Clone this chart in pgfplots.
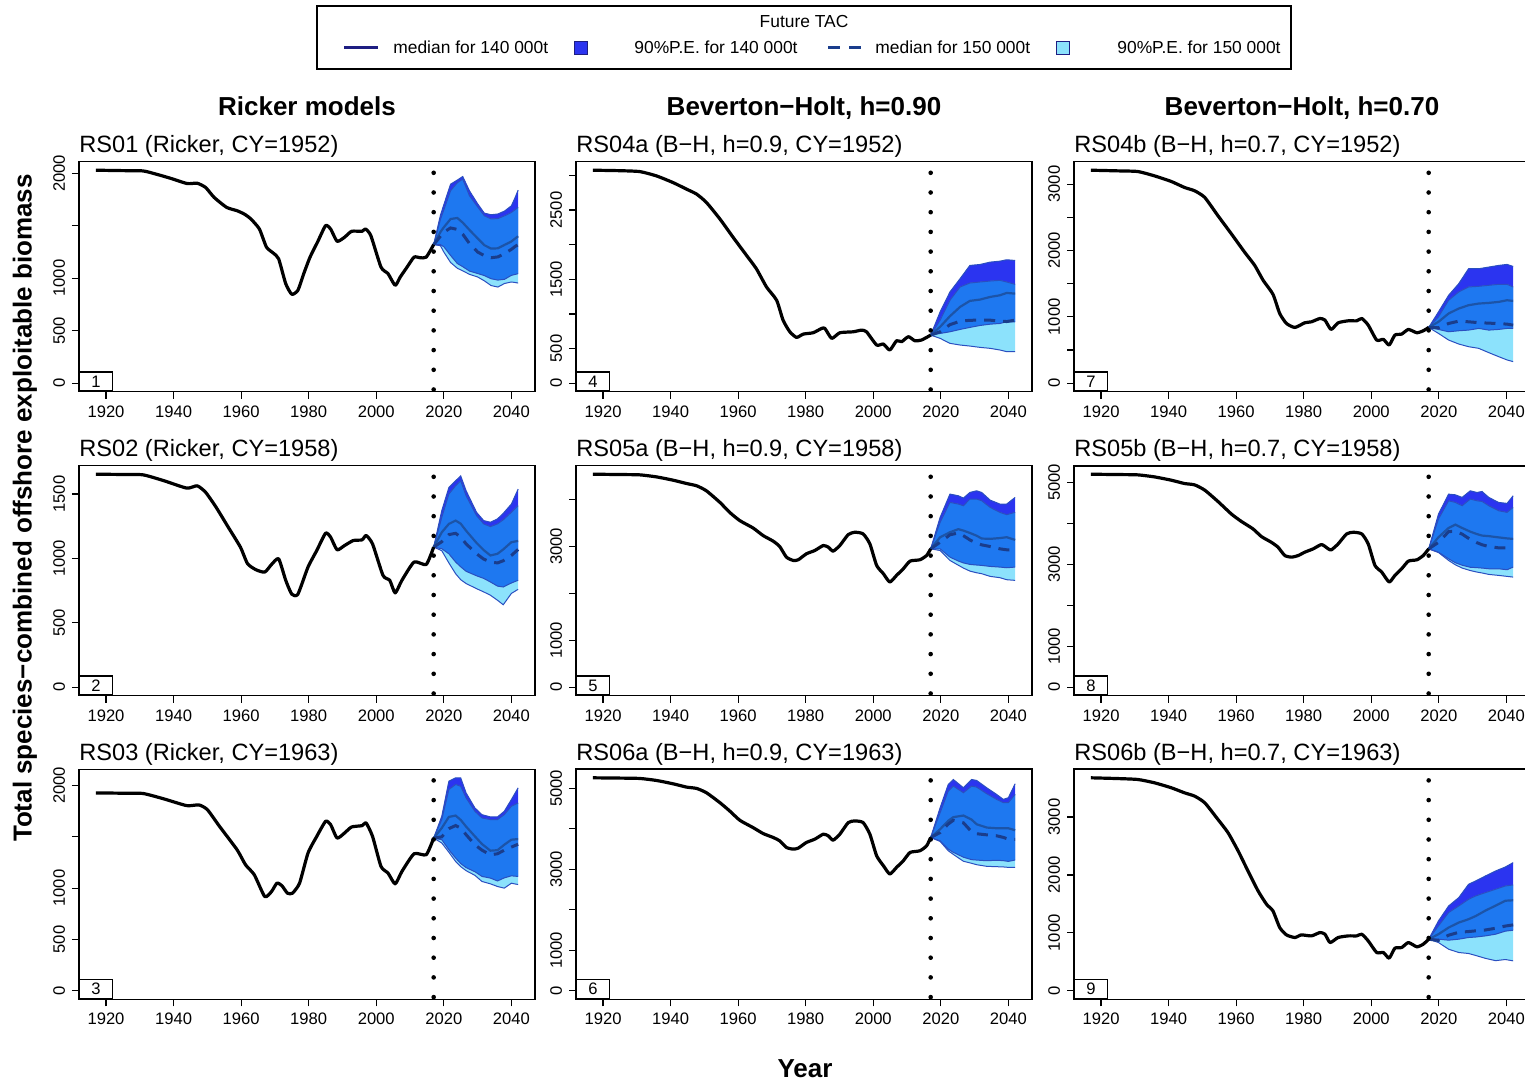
\documentclass[border=0pt]{standalone}
\usepackage{fontspec}
\setmainfont{Liberation Sans}
\usepackage{pgfplots}
\usepackage{pgfplotstable}
\pgfplotsset{compat=1.18}
\usepgfplotslibrary{fillbetween}

\definecolor{cDk}{RGB}{43,52,240}
\definecolor{cMd}{RGB}{30,120,240}
\definecolor{cLt}{RGB}{140,226,252}
\definecolor{cEdge}{RGB}{42,79,192}
\definecolor{cMedA}{RGB}{28,84,168}
\definecolor{cMedB}{RGB}{26,61,140}
\definecolor{cNavy}{RGB}{30,30,130}

\newcommand\ticksize{\fontsize{8.3}{10}\selectfont}
\newcommand\titlesize{\fontsize{11.8}{14}\selectfont}
\newcommand\bigbold{\fontsize{13}{15}\selectfont\bfseries}
\newcommand\legsize{\fontsize{8.7}{10}\selectfont}

% historical series, one table per panel
\pgfplotstableread{
yr b
1917 2029
1925 2025
1931 2022
1935 1990
1939 1953
1944 1902
1947 1905
1949.5 1864
1952 1770
1955.7 1675
1958.8 1643
1961 1610
1962.9 1564
1965.4 1469
1967.5 1296
1969.5 1240
1971.1 1185
1973.2 948
1975 847
1976.8 885
1978.5 1040
1980.4 1201
1982.7 1350
1985 1501
1986.5 1469
1988.4 1352
1990.6 1390
1992.7 1447
1995.8 1447
1996.8 1469
1998.4 1406
2001.4 1106
2003.5 1043
2005.6 932
2007.1 1011
2009 1100
2011.2 1201
2013 1195
2014.8 1201
2017 1320
}\hA
\pgfplotstableread{
yr b
1917 1654
1925 1652
1931 1649
1937.2 1603
1943.9 1546
1947 1564
1949.5 1513
1952.6 1397
1956.2 1242
1959.8 1087
1961.9 959
1964.4 912
1967 894
1969 953
1971.1 997
1973.2 830
1975 722
1976.8 722
1979.8 933
1982.4 1062
1985 1196
1986.5 1165
1988.4 1067
1990.6 1100
1993.2 1139
1995.8 1144
1997 1178
1998.9 1113
2002 868
2004 830
2005.6 732
2007.6 830
2011.2 972
2014.8 953
2017 1088
}\hB
\pgfplotstableread{
yr b
1917 1928
1925 1925
1931 1922
1937.2 1869
1943.9 1804
1947.5 1811
1950 1765
1953.6 1602
1958.8 1374
1961.3 1228
1963.9 1130
1967 918
1969 967
1970.6 1049
1972.1 1023
1973.7 951
1975.2 951
1977.3 1049
1979.8 1342
1982.4 1505
1985 1651
1986.5 1619
1988.4 1488
1990.6 1537
1992.7 1596
1995.8 1609
1997 1635
1998.9 1505
2001.4 1212
2003.5 1146
2005.6 1042
2007.6 1163
2011.2 1335
2014.8 1326
2017 1488
}\hC
\pgfplotstableread{
yr b
1917 3075
1925 3068
1930.9 3055
1935.8 2993
1940.7 2897
1944.7 2802
1947.7 2730
1950.6 2610
1954.6 2371
1958.5 2107
1962.5 1844
1965.4 1652
1968.4 1389
1971.4 1197
1973.3 910
1975.3 742
1977.3 661
1979.3 709
1982.2 728
1984.7 790
1985.7 790
1987.7 647
1990.1 728
1994.1 742
1996.5 766
1998 742
2001 551
2003 565
2004.9 479
2006.9 613
2008.4 599
2010.4 671
2012.3 613
2014.3 623
2017 694
}\hD
\pgfplotstableread{
yr b
1917 4542
1925 4535
1930.9 4528
1935.8 4485
1940.7 4415
1944.7 4344
1947.7 4295
1950.6 4188
1954.6 3941
1957.5 3728
1960.5 3552
1964.4 3396
1967.4 3233
1970.4 3113
1972.3 3000
1974.3 2773
1976.3 2703
1977.8 2717
1980.2 2844
1982.7 2915
1985.2 3021
1986.7 2986
1988.1 2901
1990.1 3021
1992.6 3255
1994.6 3304
1997 3269
1999 3056
2001 2597
2003 2420
2004.9 2243
2006.9 2384
2008.9 2526
2010.9 2689
2013.8 2717
2015.8 2809
2017 2950
}\hE
\pgfplotstableread{
yr b
1917 5262
1925 5255
1930.9 5246
1935.8 5197
1940.7 5115
1944.7 5033
1947.7 5000
1950.6 4894
1954.6 4648
1957.5 4443
1960.5 4213
1964.4 4033
1967.4 3885
1970.4 3787
1972.3 3705
1974.3 3541
1976.3 3500
1977.8 3525
1980.2 3664
1982.7 3746
1985.2 3869
1986.7 3828
1988.1 3721
1990.1 3869
1992.6 4156
1994.6 4197
1997 4156
1999 3869
2001 3336
2003 3090
2004.9 2885
2006.9 3049
2008.9 3213
2010.9 3418
2013.8 3459
2015.8 3582
2017 3787
}\hF
\pgfplotstableread{
yr b
1917 3210
1925 3200
1930.9 3190
1935.8 3125
1940.8 3040
1944.7 2950
1947.7 2900
1950.7 2800
1954.6 2525
1958.6 2250
1962.5 1975
1965.5 1775
1968 1550
1970.9 1340
1972.9 1050
1974.9 900
1977.4 840
1980.3 910
1982.3 925
1984.8 975
1986.3 950
1988.1 810
1990.2 910
1993.2 940
1995.7 940
1997.2 975
1999.1 875
2001.6 650
2003.6 660
2005.3 575
2007 725
2009 740
2011 810
2013.5 760
2015.4 790
2017 840
}\hG
\pgfplotstableread{
yr b
1917 5203
1925 5195
1930.9 5187
1935.8 5138
1940.8 5057
1944.7 4976
1947.7 4943
1950.7 4814
1954.6 4538
1958.6 4230
1961.5 4052
1965 3866
1967.5 3679
1970.4 3541
1972.4 3420
1974.4 3217
1976.4 3177
1978.4 3217
1980.3 3298
1982.8 3379
1985.3 3485
1987.3 3379
1988.2 3355
1990.2 3501
1992.7 3744
1994.7 3785
1997.2 3744
1999.1 3501
2001.1 2974
2003.1 2812
2005.3 2569
2007 2731
2009 2893
2011 3080
2013.5 3112
2015.4 3217
2017 3379
}\hH
\pgfplotstableread{
yr b
1917 3678
1925 3665
1930.9 3649
1935.8 3592
1940.8 3506
1944.7 3419
1947.7 3362
1950.7 3247
1954.6 2960
1957.6 2730
1960.6 2414
1963.5 2069
1966.5 1724
1969 1494
1970.9 1379
1972.9 1092
1974.9 965
1977.4 920
1979.3 965
1982.3 948
1984.8 1006
1986.3 977
1987.8 833
1990.2 920
1993.2 948
1995.7 948
1997.2 977
1999.1 862
2001.6 661
2003.6 661
2005.3 563
2007 736
2009 747
2011 833
2013.5 759
2015.4 805
2017 891
}\hI

% projections: 90% P.E. bounds and medians for 140 000t and 150 000t
\pgfplotstableread{
yr u140 u150 m140 m150 l140 l150
2017 1320 1320 1320 1320 1320 1320
2019 1600 1560 1440 1400 1320 1310
2020 1700 1650 1485 1438 1300 1250
2022 1896 1833 1564 1479 1217 1150
2024 1935 1910 1574 1465 1140 1095
2025.6 1969 1944 1530 1420 1110 1070
2027.6 1833 1786 1460 1330 1068 1037
2030 1710 1680 1380 1250 1045 1012
2032 1620 1595 1315 1215 1025 975
2034 1605 1565 1282 1195 995 930
2036 1612 1568 1285 1203 982 916
2038 1640 1595 1318 1235 990 950
2040 1690 1627 1350 1275 1027 964
2041 1760 1650 1375 1300 1035 960
2042 1839 1675 1400 1320 1043 954
}\pA
\pgfplotstableread{
yr u140 u150 m140 m150 l140 l150
2017 1088 1088 1088 1088 1088 1088
2019.4 1371 1319 1203 1130 1075 1060
2021.5 1551 1500 1268 1185 1036 965
2023.5 1603 1564 1294 1195 972 881
2025 1641 1603 1270 1165 935 835
2026.6 1526 1487 1215 1113 900 805
2029.7 1358 1332 1120 1036 865 765
2031.8 1294 1268 1065 995 845 740
2033.8 1281 1247 1023 972 817 714
2035.9 1307 1268 1036 965 785 675
2037.6 1350 1300 1070 982 778 640
2040 1422 1358 1126 1023 809 728
2042 1538 1410 1136 1070 830 760
}\pB
\pgfplotstableread{
yr u140 u150 m140 m150 l140 l150
2017 1488 1488 1488 1488 1488 1488
2019.4 1700 1668 1586 1500 1472 1440
2021.5 2042 1961 1694 1580 1374 1350
2023.5 2075 2010 1707 1610 1293 1260
2025 2075 1993 1665 1585 1240 1210
2026.6 1928 1879 1600 1521 1200 1170
2029.2 1782 1749 1505 1423 1160 1125
2031.3 1716 1684 1430 1370 1114 1065
2033.8 1694 1668 1365 1325 1098 1042
2035.9 1694 1668 1370 1335 1070 1016
2037.9 1749 1716 1423 1370 1100 1000
2040 1863 1798 1472 1400 1120 1048
2042 1977 1830 1478 1428 1114 1035
}\pC
\pgfplotstableread{
yr u140 u150 m140 m150 l140 l150
2017 694 694 694 694 694 694
2019.8 1030 910 814 742 718 647
2022.7 1317 1197 967 845 742 575
2025.7 1509 1389 1101 895 776 551
2028.6 1700 1446 1188 908 805 536
2031.6 1714 1461 1207 910 833 517
2034.6 1748 1475 1245 910 852 503
2037.5 1762 1485 1269 895 862 479
2039.5 1782 1461 1303 890 886 455
2042 1772 1427 1293 910 886 455
}\pD
\pgfplotstableread{
yr u140 u150 m140 m150 l140 l150
2017 2950 2950 2950 2950 2950 2950
2019.8 3622 3516 3198 3092 2950 2915
2022.7 4118 3941 3304 3250 2773 2703
2025.2 4082 3905 3370 3290 2690 2600
2026.7 4033 3870 3339 3230 2650 2540
2028.6 4153 4012 3290 3141 2618 2476
2030.6 4188 4012 3230 3070 2605 2440
2032.1 4153 3976 3170 3035 2597 2420
2034.6 3990 3835 3163 3000 2575 2363
2037.5 3905 3728 3180 2950 2561 2335
2039.5 3905 3679 3198 2930 2547 2292
2042 4047 3728 3141 2915 2561 2278
}\pE
\pgfplotstableread{
yr u140 u150 m140 m150 l140 l150
2017 3787 3787 3787 3787 3787 3787
2019.8 4525 4402 3992 3910 3705 3690
2022.2 5098 4934 4200 4120 3500 3460
2023.7 5221 5057 4290 4213 3420 3370
2026.7 5016 4894 4330 4150 3300 3200
2029.1 5221 5057 4230 3930 3240 3150
2030.6 5197 5033 4115 3880 3230 3115
2033.6 5016 4869 4033 3853 3213 3075
2036.5 4853 4730 4016 3830 3225 3066
2038.5 4730 4648 4016 3790 3215 3060
2040 4771 4648 4016 3746 3197 3049
2042 5115 4853 3967 3740 3230 3049
}\pF
\pgfplotstableread{
yr u140 u150 m140 m150 l140 l150
2017 840 840 840 840 840 840
2019.9 1075 1000 925 835 810 750
2022.9 1325 1250 1050 900 775 650
2025.9 1500 1375 1125 935 790 590
2028.8 1725 1450 1175 925 800 550
2031.8 1725 1460 1200 912 825 525
2034.8 1750 1475 1210 905 800 460
2037.7 1775 1490 1225 898 810 400
2040.2 1790 1490 1250 890 825 350
2042 1760 1450 1240 875 825 325
}\pG
\pgfplotstableread{
yr u140 u150 m140 m150 l140 l150
2017 3379 3379 3379 3379 3379 3379
2019.9 4230 4109 3663 3540 3298 3290
2022.9 4717 4554 3890 3800 3136 3096
2024.9 4700 4514 3971 3810 3040 2990
2026.9 4636 4433 3890 3740 2980 2910
2029.3 4798 4595 3800 3610 2930 2850
2031.3 4757 4554 3740 3530 2920 2812
2032.8 4781 4538 3704 3480 2910 2790
2034.8 4636 4433 3690 3436 2893 2755
2037.7 4514 4311 3660 3404 2893 2731
2040.2 4490 4271 3635 3404 2869 2707
2042 4676 4392 3623 3400 2934 2690
}\pH
\pgfplotstableread{
yr u140 u150 m140 m150 l140 l150
2017 891 891 891 891 891 891
2019.9 1207 1121 977 870 891 833
2022.9 1465 1351 1092 960 874 718
2025.9 1609 1465 1178 1010 891 661
2028.8 1839 1580 1236 1023 920 644
2030.9 1897 1638 1290 1035 928 610
2033.8 1983 1695 1385 1050 948 560
2036.8 2069 1753 1470 1080 977 520
2039.7 2138 1810 1555 1118 1030 540
2042 2213 1828 1563 1138 1046 517
}\pI

\pgfplotsset{
  panel/.style={
    scale only axis, width=228pt, height=115pt, anchor=south west,
    xmin=1912, xmax=2047,
    xtick={1920,1940,1960,1980,2000,2020,2040},
    xticklabels={1920,1940,1960,1980,2000,2020,2040},
    tick align=outside, tick pos=left, major tick length=3.5pt,
    axis line style={line width=0.8pt},
    every tick/.style={black, line width=0.6pt},
    ticklabel style={font=\ticksize},
    /pgf/number format/assume math mode=true,
    yticklabel style={rotate=90, anchor=south},
    title style={at={(0,1)}, anchor=base west, yshift=-1.5pt, font=\titlesize, inner sep=0pt},
  },
  bandedge/.style={cEdge, line width=0.5pt},
}
\tikzset{numbox/.style={draw, line width=0.6pt, fill=white, anchor=south west,
    minimum width=16.5pt, minimum height=9.5pt, inner sep=0pt, font=\ticksize}}

% #1 x, #2 y, #3 data max, #4 y ticks, #5 y tick labels, #6 title, #7 number, #8 history, #9 projection
\newcommand{\panel}[9]{%
  \pgfmathsetmacro\ylo{-0.04*#3}\pgfmathsetmacro\yhi{1.04*#3}%
  \begin{axis}[panel, at={(#1,#2)}, ymin=\ylo, ymax=\yhi,
      ytick={#4}, yticklabels={#5}, title={#6},
      extra description/.code={\node[numbox] at (0,0) {#7};}]
    \addplot[draw=none, name path=ua] table[x=yr,y=u140] {#9};
    \addplot[draw=none, name path=ub] table[x=yr,y=u150] {#9};
    \addplot[draw=none, name path=la] table[x=yr,y=l140] {#9};
    \addplot[draw=none, name path=lb] table[x=yr,y=l150] {#9};
    \addplot[fill=cDk, draw=none] fill between[of=ua and la];
    \addplot[fill=cLt, draw=none] fill between[of=ub and lb];
    \addplot[fill=cMd, draw=none] fill between[of=ub and la];
    \addplot[bandedge] table[x=yr,y=u140] {#9};
    \addplot[bandedge] table[x=yr,y=u150] {#9};
    \addplot[bandedge] table[x=yr,y=l140] {#9};
    \addplot[bandedge] table[x=yr,y=l150] {#9};
    \addplot[cMedA, line width=1.1pt] table[x=yr,y=m140] {#9};
    \addplot[cMedB, line width=1.5pt, dash pattern=on 5.5pt off 4pt] table[x=yr,y=m150] {#9};
    \addplot[black, line width=1.6pt, line join=round, smooth, tension=0.35] table[x=yr,y=b] {#8};
    \addplot[black, line width=2.3pt, line cap=round, dash pattern=on 0pt off 9.85pt, dash phase=4.3pt]
      coordinates {(2017,\yhi) (2017,\ylo)};
  \end{axis}}

\begin{document}
\begin{tikzpicture}
% legend
\draw[line width=0.6pt] (158.5pt,506.5pt) rectangle (645.5pt,538pt);
\node[anchor=base, font=\legsize, inner sep=0pt] at (402pt,527pt) {Future TAC};
\draw[cNavy, line width=1.5pt] (172pt,517pt) -- (189pt,517pt);
\node[anchor=base west, font=\legsize, inner sep=0pt] at (196.5pt,514pt) {median for 140 000t};
\draw[fill=cDk, draw=cNavy, line width=0.5pt] (287.25pt,513.75pt) rectangle (293.75pt,520.25pt);
\node[anchor=base west, font=\legsize, inner sep=0pt] at (317pt,514pt) {90\%P.E. for 140 000t};
\draw[cMedB, line width=1.5pt, dash pattern=on 6pt off 4.5pt] (414pt,517pt) -- (431pt,517pt);
\node[anchor=base west, font=\legsize, inner sep=0pt] at (437.5pt,514pt) {median for 150 000t};
\draw[fill=cLt, draw=cNavy, line width=0.5pt] (528.25pt,513.75pt) rectangle (534.75pt,520.25pt);
\node[anchor=base west, font=\legsize, inner sep=0pt] at (558.5pt,514pt) {90\%P.E. for 150 000t};

% column headers and axis titles
\node[anchor=base, font=\bigbold, inner sep=0pt] at (153.5pt,483pt) {Ricker models};
\node[anchor=base, font=\bigbold, inner sep=0pt] at (402pt,483pt) {Beverton−Holt, h=0.90};
\node[anchor=base, font=\bigbold, inner sep=0pt] at (651pt,483pt) {Beverton−Holt, h=0.70};
\node[rotate=90, font=\bigbold, inner sep=0pt] at (12.5pt,287pt) {Total species−combined offshore exploitable biomass};
\node[anchor=base, font=\bigbold, inner sep=0pt] at (402.5pt,2.5pt) {Year};

% row 1
\panel{39.5pt}{345.15pt}{2029}{0,500,1000,1500,2000}{0,500,1000,,2000}{RS01 (Ricker, CY=1952)}{1}{\hA}{\pA}
\panel{288pt}{345.15pt}{3075}{0,500,1000,1500,2000,2500,3000}{0,500,,1500,,2500,}{RS04a (B−H, h=0.9, CY=1952)}{4}{\hD}{\pD}
\panel{537pt}{345.15pt}{3210}{0,500,1000,1500,2000,2500,3000}{0,,1000,,2000,,3000}{RS04b (B−H, h=0.7, CY=1952)}{7}{\hG}{\pG}
% row 2
\panel{39.5pt}{193.15pt}{1654}{0,500,1000,1500}{0,500,1000,1500}{RS02 (Ricker, CY=1958)}{2}{\hB}{\pB}
\panel{288pt}{193.15pt}{4542}{0,1000,2000,3000,4000}{0,1000,,3000,}{RS05a (B−H, h=0.9, CY=1958)}{5}{\hE}{\pE}
\panel{537pt}{193.15pt}{5203}{0,1000,2000,3000,4000,5000}{0,1000,,3000,,5000}{RS05b (B−H, h=0.7, CY=1958)}{8}{\hH}{\pH}
% row 3
\panel{39.5pt}{41.35pt}{2075}{0,500,1000,1500,2000}{0,500,1000,,2000}{RS03 (Ricker, CY=1963)}{3}{\hC}{\pC}
\panel{288pt}{41.35pt}{5262}{0,1000,2000,3000,4000,5000}{0,1000,,3000,,5000}{RS06a (B−H, h=0.9, CY=1963)}{6}{\hF}{\pF}
\panel{537pt}{41.35pt}{3678}{0,1000,2000,3000}{0,1000,2000,3000}{RS06b (B−H, h=0.7, CY=1963)}{9}{\hI}{\pI}

% page is the reference's frame, which cuts off the right column
\pgfresetboundingbox
\path[use as bounding box] (0pt,0pt) rectangle (762.5pt,541pt);
\end{tikzpicture}
\end{document}
